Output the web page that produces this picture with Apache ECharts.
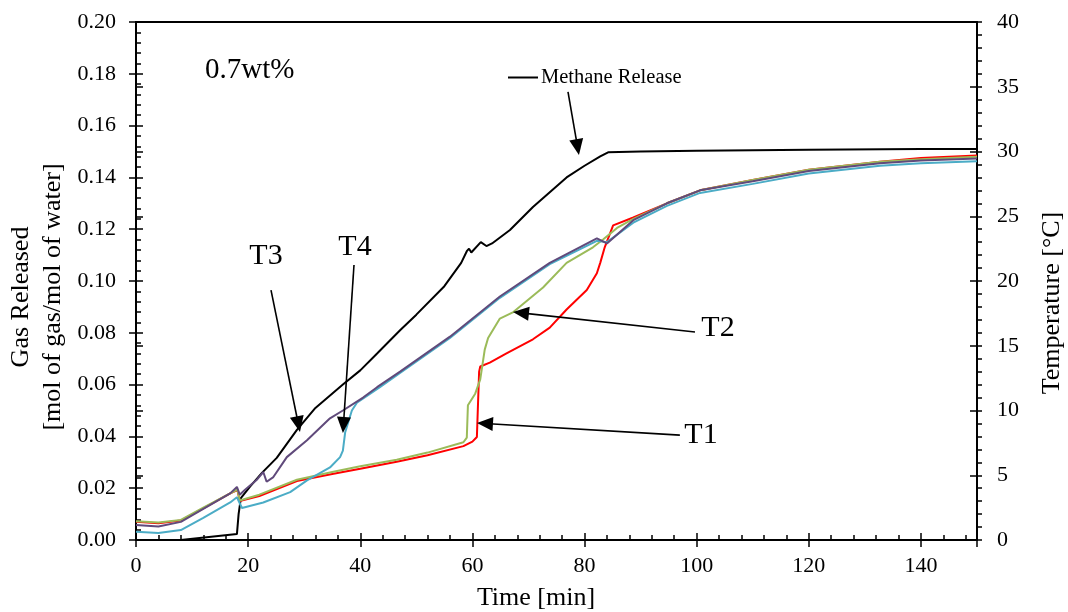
<!DOCTYPE html>
<html>
<head>
<meta charset="utf-8">
<title>Gas Released</title>
<script src="https://cdn.jsdelivr.net/npm/echarts@6/dist/echarts.min.js"></script>
<style>
  html, body { margin: 0; padding: 0; background: #fff; }
  #chart { width: 1068px; height: 612px; }
</style>
</head>
<body>
<div id="chart"></div>
<script>
// 数据: time [min] / methane [mol/mol] / temperatures [°C]
const methaneTime = [0, 8, 18, 18.3, 18.7, 20.3, 22.5, 25.1, 28.7, 32, 36.9, 40, 43, 47.1, 50, 55, 58, 59, 59.4, 59.8, 61.5, 62.5, 63.5, 66.7, 70.8, 76.8, 80, 82.8, 84.2, 90, 100, 120, 140, 150];
const methaneValue = [0, 0, 0.0023, 0.010, 0.0162, 0.0205, 0.026, 0.0317, 0.0425, 0.051, 0.060, 0.0655, 0.072, 0.081, 0.087, 0.098, 0.107, 0.1115, 0.1125, 0.111, 0.115, 0.1135, 0.1145, 0.1197, 0.1286, 0.140, 0.1445, 0.1481, 0.1497, 0.1500, 0.1503, 0.1507, 0.1510, 0.1510];

const t1Time = [0, 4, 8, 12, 16.8, 18.1, 18.5, 22, 28.7, 35, 40, 46.5, 52, 58.4, 60, 60.8, 61.0, 61.2, 61.4, 63.1, 66, 70.8, 73.8, 76.8, 80.4, 82.2, 82.8, 83.6, 85.1, 88.7, 94.7, 100.6, 110, 120, 132.7, 140, 150];
const t1Value = [1.4, 1.3, 1.5, 2.45, 3.6, 3.85, 3.0, 3.4, 4.55, 5.1, 5.5, 6.05, 6.55, 7.25, 7.6, 7.95, 10.5, 13.0, 13.4, 13.7, 14.4, 15.5, 16.4, 17.8, 19.3, 20.6, 21.4, 22.6, 24.3, 24.9, 26.0, 27.0, 27.8, 28.6, 29.2, 29.5, 29.7];

const t2Time = [0, 4, 8, 12, 16.8, 18.1, 18.5, 22, 28.7, 35, 40, 46.5, 52, 58.4, 59.0, 59.2, 60.5, 61.4, 62.2, 62.8, 64.9, 67.3, 72.6, 76.8, 81.5, 83.3, 85.8, 88.7, 94.7, 100.6, 110, 120, 132.7, 140, 150];
const t2Value = [1.45, 1.35, 1.55, 2.5, 3.6, 3.9, 3.05, 3.5, 4.65, 5.25, 5.7, 6.2, 6.75, 7.55, 7.9, 10.4, 11.3, 12.4, 14.7, 15.6, 17.1, 17.6, 19.5, 21.4, 22.6, 23.2, 24.1, 24.8, 26.0, 27.0, 27.8, 28.6, 29.2, 29.4, 29.6];

const t3Time = [0, 4, 8, 12, 16.8, 18, 18.5, 19.4, 21.5, 22.7, 23.3, 24.5, 26.9, 30.5, 34.6, 36.9, 40.5, 43, 47.1, 56, 64.9, 73.8, 82.2, 84, 88.7, 94.7, 100.6, 110, 120, 132.7, 140, 150];
const t3Value = [1.15, 1.05, 1.4, 2.4, 3.6, 4.1, 3.5, 3.86, 4.63, 5.25, 4.5, 4.86, 6.4, 7.7, 9.4, 10.0, 11.0, 11.8, 13.0, 15.7, 18.8, 21.4, 23.3, 22.9, 24.7, 26.0, 27.0, 27.7, 28.5, 29.1, 29.3, 29.45];

const t4Time = [0, 4, 8, 12, 16.8, 18, 18.9, 22.7, 27.5, 30.5, 34.6, 36.4, 36.9, 37.3, 38.5, 39.4, 43.5, 47.1, 56, 64.9, 73.8, 82.2, 84, 88.7, 94.7, 100.6, 110, 120, 132.7, 140, 150];
const t4Value = [0.64, 0.54, 0.77, 1.7, 2.9, 3.3, 2.47, 2.9, 3.7, 4.6, 5.6, 6.4, 6.9, 8.3, 10.0, 10.6, 11.8, 12.9, 15.6, 18.7, 21.3, 23.1, 23.0, 24.5, 25.8, 26.8, 27.5, 28.3, 28.9, 29.1, 29.25];

// 刻度标签
const xTicks = [0, 20, 40, 60, 80, 100, 120, 140];
const leftTicks = [0, 0.02, 0.04, 0.06, 0.08, 0.10, 0.12, 0.14, 0.16, 0.18, 0.20];
const rightTicks = [0, 5, 10, 15, 20, 25, 30, 35, 40];

// 箭头注释 [尾, 头] (data coords on the left axis)
const arrows = [
  [[77.05, 0.1730], [78.76, 0.1517]],
  [[99.7, 0.0803], [68.66, 0.0877]],
  [[97.0, 0.0405], [62.24, 0.0450]],
  [[24.08, 0.0965], [28.96, 0.0447]],
  [[38.88, 0.1062], [37.0, 0.0444]]
];

const FONT = '"Liberation Serif", "Times New Roman", serif';

function zip(xs, ys) {
  return xs.map((x, i) => [x, ys[i]]);
}

function tempSeries(name, time, value, color) {
  return {
    name: name,
    type: 'line',
    xAxisIndex: 0,
    yAxisIndex: 1,
    data: zip(time, value),
    showSymbol: false,
    lineStyle: { color: color, width: 2 },
    itemStyle: { color: color },
    silent: true,
    z: 3
  };
}

// 只画刻度的辅助坐标轴
function tickAxis(extra, inside, length) {
  return Object.assign({
    type: 'value',
    axisLine: { show: false },
    axisLabel: { show: false },
    splitLine: { show: false },
    axisTick: { show: true, inside: inside, length: length, lineStyle: { color: '#000', width: 1.5 } }
  }, extra);
}

const chart = echarts.init(document.getElementById('chart'));

const option = {
  animation: false,
  backgroundColor: '#fff',
  textStyle: { fontFamily: FONT, color: '#000' },
  grid: {
    left: 136, right: 91, top: 22, bottom: 72,
    show: true, borderColor: '#000', borderWidth: 2, backgroundColor: 'transparent'
  },
  legend: {
    data: ['Methane Release'],
    left: 508,
    top: 67,
    padding: 0,
    icon: 'rect',
    itemWidth: 30,
    itemHeight: 2,
    itemGap: 0,
    textStyle: { fontFamily: FONT, fontSize: 20.5, color: '#000', padding: [0, 0, 0, -2] },
    selectedMode: false
  },
  xAxis: [
    {
      type: 'value', min: 0, max: 150, interval: 4,
      axisLine: { show: true, lineStyle: { color: '#000', width: 2 } },
      axisTick: { show: true, inside: true, length: 5, lineStyle: { color: '#000', width: 1.5 } },
      axisLabel: {
        fontFamily: FONT, fontSize: 22, color: '#000', margin: 15,
        formatter: v => (xTicks.indexOf(v) >= 0 ? String(v) : '')
      },
      splitLine: { show: false }
    },
    tickAxis({ min: 0, max: 150, interval: 20 }, false, 7),
    tickAxis({ min: 0, max: 150, interval: 20 }, true, 7)
  ],
  yAxis: [
    {
      type: 'value', position: 'left', min: 0, max: 0.2, interval: 0.02,
      axisLine: { show: true, lineStyle: { color: '#000', width: 2 } },
      axisTick: { show: true, inside: true, length: 7, lineStyle: { color: '#000', width: 1.5 } },
      axisLabel: {
        fontFamily: FONT, fontSize: 22, color: '#000', margin: 20,
        formatter: v => {
          const t = leftTicks.find(k => Math.abs(k - v) < 1e-9);
          return t === undefined ? '' : t.toFixed(2);
        }
      },
      splitLine: { show: false }
    },
    {
      type: 'value', position: 'right', min: 0, max: 40, interval: 5,
      axisLine: { show: true, lineStyle: { color: '#000', width: 2 } },
      axisTick: { show: true, inside: false, length: 7, lineStyle: { color: '#000', width: 1.5 } },
      axisLabel: {
        fontFamily: FONT, fontSize: 22, color: '#000', margin: 20,
        formatter: v => (rightTicks.indexOf(v) >= 0 ? String(v) : '')
      },
      splitLine: { show: false }
    },
    tickAxis({ position: 'left', min: 0, max: 0.2, interval: 0.02 }, false, 7),
    tickAxis({ position: 'right', min: 0, max: 40, interval: 5 }, true, 7),
    tickAxis({ position: 'left', min: 0, max: 0.2, interval: 0.004 }, true, 5),
    tickAxis({ position: 'right', min: 0, max: 40, interval: 1 }, false, 5)
  ],
  series: [
    {
      name: 'Methane Release',
      type: 'line',
      xAxisIndex: 0,
      yAxisIndex: 0,
      data: zip(methaneTime, methaneValue),
      showSymbol: false,
      lineStyle: { color: '#000', width: 2 },
      itemStyle: { color: '#000' },
      silent: true,
      z: 2,
      markLine: {
        silent: true,
        animation: false,
        symbol: ['none', 'triangle'],
        symbolSize: [14, 16],
        label: { show: false },
        lineStyle: { color: '#000', width: 1.6, type: 'solid' },
        emphasis: { disabled: true },
        data: arrows.map(a => [{ coord: a[0] }, { coord: a[1] }])
      }
    },
    tempSeries('T1', t1Time, t1Value, '#FF0000'),
    tempSeries('T2', t2Time, t2Value, '#9BBB59'),
    tempSeries('T4', t4Time, t4Value, '#4BACC6'),
    tempSeries('T3', t3Time, t3Value, '#604A7B')
  ],
  graphic: [
    { type: 'text', x: 205, y: 70, style: { text: '0.7wt%', fontFamily: FONT, fontSize: 29, fill: '#000', align: 'left', verticalAlign: 'middle' } },
    { type: 'text', x: 266, y: 256, style: { text: 'T3', fontFamily: FONT, fontSize: 30, fill: '#000', align: 'center', verticalAlign: 'middle' } },
    { type: 'text', x: 355, y: 247, style: { text: 'T4', fontFamily: FONT, fontSize: 30, fill: '#000', align: 'center', verticalAlign: 'middle' } },
    { type: 'text', x: 718, y: 328, style: { text: 'T2', fontFamily: FONT, fontSize: 30, fill: '#000', align: 'center', verticalAlign: 'middle' } },
    { type: 'text', x: 701, y: 435, style: { text: 'T1', fontFamily: FONT, fontSize: 30, fill: '#000', align: 'center', verticalAlign: 'middle' } },
    { type: 'text', x: 536, y: 598, style: { text: 'Time [min]', fontFamily: FONT, fontSize: 26, fill: '#000', align: 'center', verticalAlign: 'middle' } },
    {
      type: 'text', x: 37, y: 297, rotation: Math.PI / 2,
      style: { text: 'Gas Released\n[mol of gas/mol of water]', fontFamily: FONT, fontSize: 26, lineHeight: 32, fill: '#000', align: 'center', verticalAlign: 'middle' }
    },
    {
      type: 'text', x: 1052, y: 303, rotation: Math.PI / 2,
      style: { text: 'Temperature [°C]', fontFamily: FONT, fontSize: 26, fill: '#000', align: 'center', verticalAlign: 'middle' }
    }
  ]
};

chart.setOption(option);

window.addEventListener('resize', function () {
  chart.resize();
});
</script>
</body>
</html>
